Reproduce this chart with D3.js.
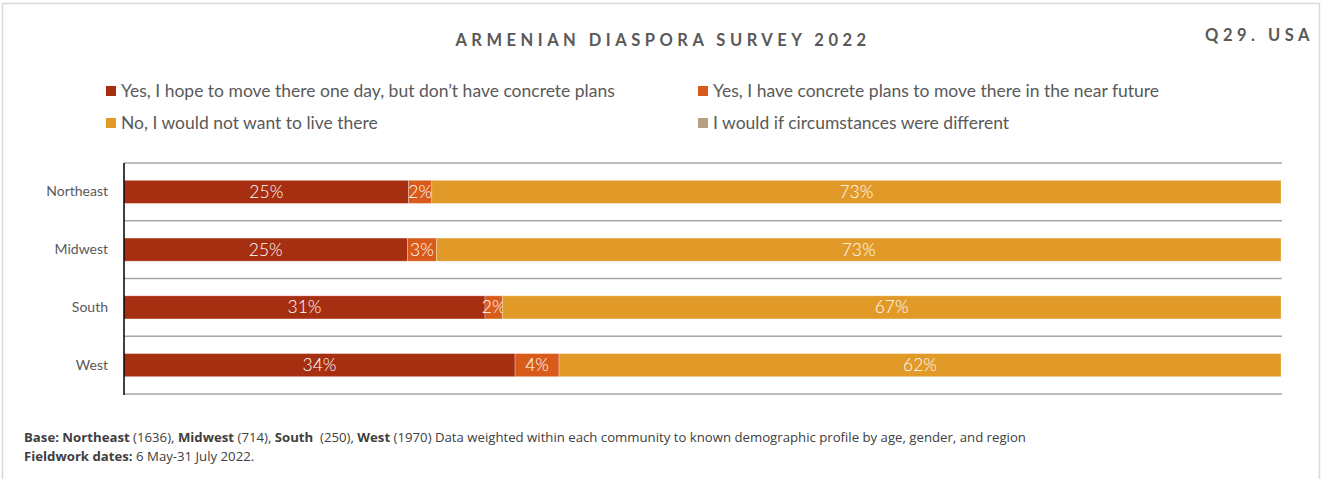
<!DOCTYPE html>
<html><head><meta charset="utf-8">
<script src="https://cdn.jsdelivr.net/npm/d3@7"></script>
<style>
body{margin:0;background:#fff;}
svg{display:block;}
</style></head>
<body>
<svg id="c" width="1324" height="479"></svg>
<script>
const categories = ["Northeast","Midwest","South","West"];
const seriesNames = [
  "Yes, I hope to move there one day, but don\u2019t have concrete plans",
  "Yes, I have concrete plans to move there in the near future",
  "No, I would not want to live there",
  "I would if circumstances were different"
];
const hopeValues = [24.6, 24.5, 31.2, 33.8];
const plansValues = [2.0, 2.5, 1.5, 3.8];
const noValues = [73.4, 73.0, 67.3, 62.4];
const circValues = [0, 0, 0, 0];
const colors = ["#a62f12","#d95b1b","#e19a28","#b5a083"];

const svg = d3.select("#c");
const gray = "#595959";

// frame
svg.append("rect").attr("x",2.5).attr("y",3.5).attr("width",1317).attr("height",480)
  .attr("fill","none").attr("stroke","#d9d9d9").attr("stroke-width",1.5);

// title
svg.append("text").attr("x",663).attr("y",46).attr("text-anchor","middle")
  .attr("font-family","Lato").attr("font-weight",700).attr("font-size",16.5)
  .attr("letter-spacing","4.5px").attr("fill",gray).text("ARMENIAN DIASPORA SURVEY 2022");
svg.append("text").attr("x",1314).attr("y",41).attr("text-anchor","end")
  .attr("font-family","Lato").attr("font-weight",700).attr("font-size",16.5)
  .attr("letter-spacing","4.5px").attr("fill",gray).text("Q29. USA");

// legend
const legPos = [[106,91],[698,91],[106,123],[698,123]];
seriesNames.forEach((n,i)=>{
  const g = svg.append("g").attr("transform",`translate(${legPos[i][0]},${legPos[i][1]})`);
  g.append("rect").attr("x",0).attr("y",-5).attr("width",10).attr("height",10).attr("fill",colors[i]);
  g.append("text").attr("x",15).attr("y",6).attr("font-family","Lato").attr("font-size",17.5)
    .attr("fill",gray).text(n);
});

// scales
const x = d3.scaleLinear().domain([0,100]).range([124,1281]);
const y = d3.scaleBand().domain(categories).range([163,394]).paddingInner(0.6).paddingOuter(0.3);

// gridlines (category boundaries)
const bounds = d3.range(categories.length+1).map(i=>163 + i*(394-163)/categories.length);
svg.append("g").selectAll("line").data(bounds).join("line")
  .attr("x1",124).attr("x2",1282).attr("y1",d=>d).attr("y2",d=>d)
  .attr("stroke","#a6a6a6").attr("stroke-width",1.5);

// stack
const rows = categories.map((c,i)=>({cat:c, s0:hopeValues[i], s1:plansValues[i], s2:noValues[i], s3:circValues[i]}));
const stack = d3.stack().keys(["s0","s1","s2","s3"])(rows);

stack.forEach((layer,li)=>{
  const g = svg.append("g");
  g.selectAll("rect").data(layer).join("rect")
    .attr("x",d=>x(d[0])).attr("width",d=>Math.max(0,x(d[1])-x(d[0])))
    .attr("y",d=>y(d.data.cat)).attr("height",y.bandwidth())
    .attr("fill",colors[li]).attr("stroke","rgba(255,255,255,0.35)").attr("stroke-width",0.8);
  g.selectAll("text").data(layer.filter(d=>d[1]-d[0]>0)).join("text")
    .attr("x",d=>(x(d[0])+x(d[1]))/2).attr("y",d=>y(d.data.cat)+y.bandwidth()/2+6)
    .attr("text-anchor","middle").attr("font-family","Lato").attr("font-weight",300)
    .attr("font-size",17.5).attr("fill","#fff")
    .text(d=>Math.round(d[1]-d[0])+"%");
});

// y axis
const yAxis = d3.axisLeft(y).tickSize(0).tickPadding(16);
const ya = svg.append("g").attr("transform","translate(124,0)").call(yAxis);
ya.select(".domain").remove();
ya.selectAll("text").attr("font-family","Lato").attr("font-size",14).attr("fill",gray);
svg.append("line").attr("x1",124).attr("x2",124).attr("y1",163).attr("y2",395)
  .attr("stroke","#000").attr("stroke-width",1.5);

// footer
const f1 = svg.append("text").attr("x",24).attr("y",442).attr("font-family","Open Sans")
  .attr("font-size",13.2).attr("fill","#404040").attr("style","white-space:pre");
[["Base: ",1],["Northeast",1],[" (1636), ",0],["Midwest",1],[" (714), ",0],["South",1],["  (250), ",0],["West",1],
 [" (1970) Data weighted within each community to known demographic profile by age, gender, and region",0]]
 .forEach(([t,b])=>f1.append("tspan").attr("font-weight",b?700:400).text(t));
const f2 = svg.append("text").attr("x",24).attr("y",461).attr("font-family","Open Sans")
  .attr("font-size",13.2).attr("fill","#404040");
f2.append("tspan").attr("font-weight",700).text("Fieldwork dates:");
f2.append("tspan").text(" 6 May-31 July 2022.");
</script>
</body></html>
